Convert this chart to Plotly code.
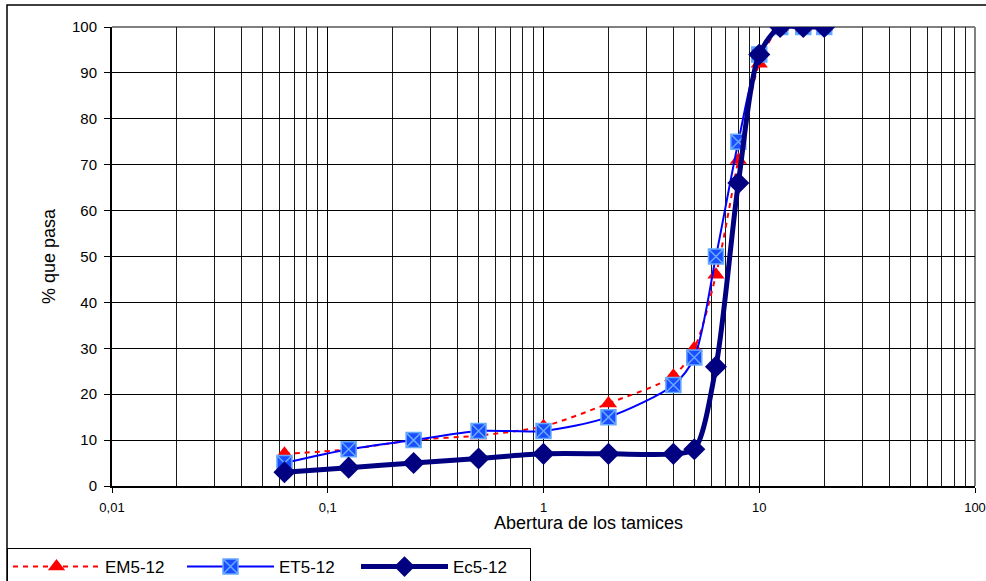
import plotly.graph_objects as go

# ---- data ----
sieves = [0.063, 0.125, 0.25, 0.5, 1, 2, 4, 5, 6.3, 8, 10, 12.5, 16, 20]
em5_12 = [7, 8, 10, 11, 13, 18, 24, 30, 46, 71, 92, 100, 100, 100]
et5_12 = [5, 8, 10, 12, 12, 15, 22, 28, 50, 75, 94, 100, 100, 100]
ec5_12 = [3, 4, 5, 6, 7, 7, 7, 8, 26, 66, 94, 100, 100, 100]

x_major = [0.01, 0.1, 1, 10, 100]
x_major_text = ["0,01", "0,1", "1", "10", "100"]
x_minor = [m * d for d in [0.01, 0.1, 1, 10] for m in range(2, 10)]

W, H = 986, 581
L, R, T, B = 112, 11, 27, 95
pw, ph = W - L - R, H - T - B

def px_x(p):
    return (p - L) / pw

def px_y(p):
    return (H - B - p) / ph

FONT = "Liberation Sans, Arial, sans-serif"

fig = go.Figure()

fig.add_trace(go.Scatter(
    x=sieves, y=em5_12, name="EM5-12", mode="lines+markers",
    line=dict(color="#FF0000", width=2, dash="5px,5px", shape="spline", smoothing=0.8),
    marker=dict(symbol="triangle-up", size=15, color="#FF0000", line=dict(width=0)),
))
fig.add_trace(go.Scatter(
    x=sieves, y=et5_12, name="ET5-12", mode="lines+markers",
    line=dict(color="#0000FF", width=2, shape="spline", smoothing=0.8),
    marker=dict(symbol="square-x", size=15, color="#1A4DFF",
                line=dict(color="#66AAFF", width=1.5)),
))
fig.add_trace(go.Scatter(
    x=sieves, y=ec5_12, name="Ec5-12", mode="lines+markers",
    line=dict(color="#000080", width=5, shape="spline", smoothing=0.8),
    marker=dict(symbol="diamond", size=17, color="#000080", line=dict(width=0)),
))

fig.update_layout(
    width=W, height=H,
    margin=dict(l=L, r=R, t=T, b=B, pad=0),
    paper_bgcolor="white", plot_bgcolor="white",
    font=dict(family=FONT, color="black"),
    showlegend=True,
    legend=dict(
        orientation="h", xref="container", yref="container",
        x=7 / W, y=(H - 548) / H, xanchor="left", yanchor="top",
        bgcolor="white", bordercolor="black", borderwidth=1,
        font=dict(size=17, family=FONT),
        itemwidth=87,
        entrywidth=72, entrywidthmode="pixels",
        traceorder="normal",
    ),
    xaxis=dict(
        type="log", range=[-2, 2], automargin=False,
        tickvals=x_major, ticktext=x_major_text,
        ticks="outside", ticklen=5, tickcolor="black",
        tickfont=dict(size=13), ticklabelstandoff=3,
        showgrid=True, gridcolor="#000000", gridwidth=1,
        minor=dict(tickvals=x_minor, showgrid=True, gridcolor="#1a1a1a",
                   gridwidth=1, ticks=""),
        showline=True, linecolor="black", linewidth=2,
        zeroline=False,
    ),
    yaxis=dict(
        range=[0, 100], dtick=10, tick0=0, automargin=False,
        ticks="outside", ticklen=6, tickcolor="black",
        tickfont=dict(size=15), ticklabelstandoff=4,
        showgrid=True, gridcolor="#000000", gridwidth=1,
        showline=True, linecolor="black", linewidth=2,
        zeroline=False,
        title=dict(text="% que pasa", font=dict(size=18), standoff=12),
    ),
    annotations=[dict(
        text="Abertura de los tamices", xref="paper", yref="paper",
        x=px_x(588), y=px_y(523), xanchor="center", yanchor="middle",
        showarrow=False, font=dict(size=18, family=FONT),
    )],
    shapes=[
        # outer chart frame
        dict(type="rect", xref="paper", yref="paper", layer="below",
             x0=px_x(7), x1=px_x(1000), y0=px_y(600), y1=px_y(5),
             line=dict(color="black", width=1.5), fillcolor="rgba(0,0,0,0)"),
        # plot area frame (top/right gray)
        dict(type="line", xref="paper", yref="paper", layer="below",
             x0=0, x1=1, y0=1, y1=1, line=dict(color="#808080", width=2)),
        dict(type="line", xref="paper", yref="paper", layer="below",
             x0=1, x1=1, y0=0, y1=1, line=dict(color="#808080", width=2)),
    ],
)

fig.write_html("out.html")
